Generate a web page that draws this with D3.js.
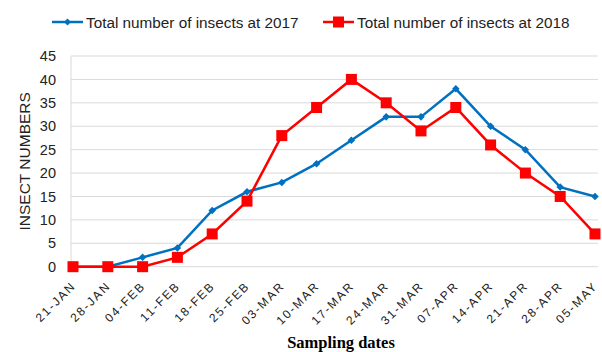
<!DOCTYPE html>
<html>
<head>
<meta charset="utf-8">
<script src="https://cdn.jsdelivr.net/npm/d3@7"></script>
<style>
  html, body { margin: 0; padding: 0; background: #fff; }
  svg { display: block; }
</style>
</head>
<body>
<svg id="chart" width="602" height="352"></svg>
<script>
// Sampling dates (weekly)
const dates = ["21-JAN","28-JAN","04-FEB","11-FEB","18-FEB","25-FEB","03-MAR","10-MAR",
               "17-MAR","24-MAR","31-MAR","07-APR","14-APR","21-APR","28-APR","05-MAY"];
// Insect counts per sampling date
const insects2017 = [0,0,2,4,12,16,18,22,27,32,32,38,30,25,17,15];
const insects2018 = [0,0,0,2,7,14,28,34,40,35,29,34,26,20,15,7];
const yTicks = [0,5,10,15,20,25,30,35,40,45];
const seriesNames = ["Total number of insects at 2017", "Total number of insects at 2018"];

const svg = d3.select("#chart");
const plotLeft = 71, plotRight = 598, plotTop = 56, plotBottom = 266.7;

const x = d3.scalePoint().domain(dates).range([73, 595]);
const y = d3.scaleLinear().domain([0, 45]).range([plotBottom, plotTop]);

const tickFont = "Liberation Sans, Arial, sans-serif";

// Horizontal gridlines
svg.append("g")
  .selectAll("line")
  .data(yTicks)
  .join("line")
  .attr("x1", plotLeft).attr("x2", plotRight)
  .attr("y1", d => y(d)).attr("y2", d => y(d))
  .attr("stroke", "#d9d9d9").attr("stroke-width", 1);

// Vertical axis line
svg.append("line")
  .attr("x1", plotLeft).attr("x2", plotLeft)
  .attr("y1", plotTop).attr("y2", plotBottom)
  .attr("stroke", "#d9d9d9").attr("stroke-width", 1);

// Y axis
const yAxis = svg.append("g")
  .attr("transform", `translate(${plotLeft},0)`)
  .call(d3.axisLeft(y).tickValues(yTicks).tickSize(0).tickPadding(15));
yAxis.select(".domain").remove();
yAxis.selectAll("text")
  .attr("font-family", tickFont)
  .attr("font-size", 14.5)
  .attr("fill", "#222");

// X axis labels (rotated)
const xAxis = svg.append("g")
  .attr("transform", `translate(0,${plotBottom})`)
  .call(d3.axisBottom(x).tickSize(0).tickPadding(0));
xAxis.select(".domain").remove();
xAxis.selectAll("text")
  .attr("font-family", tickFont)
  .attr("font-size", 12)
  .attr("letter-spacing", 1.8)
  .attr("fill", "#222")
  .attr("text-anchor", "end")
  .attr("dy", 0)
  .attr("transform", "translate(3,20) rotate(-45)");

// Axis titles
svg.append("text")
  .attr("transform", `translate(30,${(plotTop + plotBottom) / 2}) rotate(-90)`)
  .attr("text-anchor", "middle")
  .attr("font-family", tickFont)
  .attr("font-size", 15.5)
  .attr("fill", "#222")
  .text("INSECT NUMBERS");

svg.append("text")
  .attr("x", 341).attr("y", 348)
  .attr("text-anchor", "middle")
  .attr("font-family", "Liberation Serif, Times New Roman, serif")
  .attr("font-weight", "bold")
  .attr("font-size", 16.5)
  .attr("fill", "#000")
  .text("Sampling dates");

const line = d3.line().x((d, i) => x(dates[i])).y(d => y(d));
const blue = "#0070c0", red = "#ff0000";

// 2017 series: diamonds
svg.append("path").datum(insects2017)
  .attr("d", line).attr("fill", "none")
  .attr("stroke", blue).attr("stroke-width", 2.5);
svg.append("g").selectAll("path")
  .data(insects2017)
  .join("path")
  .attr("d", d3.symbol(d3.symbolDiamond2, 36))
  .attr("transform", (d, i) => `translate(${x(dates[i])},${y(d)})`)
  .attr("fill", blue);

// 2018 series: squares
svg.append("path").datum(insects2018)
  .attr("d", line).attr("fill", "none")
  .attr("stroke", red).attr("stroke-width", 2.5);
svg.append("g").selectAll("rect")
  .data(insects2018)
  .join("rect")
  .attr("x", (d, i) => x(dates[i]) - 5.5)
  .attr("y", d => y(d) - 5.5)
  .attr("width", 11).attr("height", 11)
  .attr("fill", red);

// Legend
const legend = svg.append("g");
const items = [
  { name: seriesNames[0], color: blue, x0: 52, marker: "diamond" },
  { name: seriesNames[1], color: red, x0: 323, marker: "square" }
];
items.forEach(it => {
  const g = legend.append("g").attr("transform", `translate(${it.x0},22)`);
  g.append("line").attr("x1", 0).attr("x2", 31).attr("y1", 0).attr("y2", 0)
    .attr("stroke", it.color).attr("stroke-width", 2.5);
  if (it.marker === "diamond") {
    g.append("path").attr("d", d3.symbol(d3.symbolDiamond2, 32))
      .attr("transform", "translate(15.5,0)").attr("fill", it.color);
  } else {
    g.append("rect").attr("x", 10).attr("y", -5.5).attr("width", 11).attr("height", 11)
      .attr("fill", it.color);
  }
  g.append("text").attr("x", 34).attr("y", 5.5)
    .attr("font-family", tickFont).attr("font-size", 15.3).attr("fill", "#222")
    .text(it.name);
});
</script>
</body>
</html>
